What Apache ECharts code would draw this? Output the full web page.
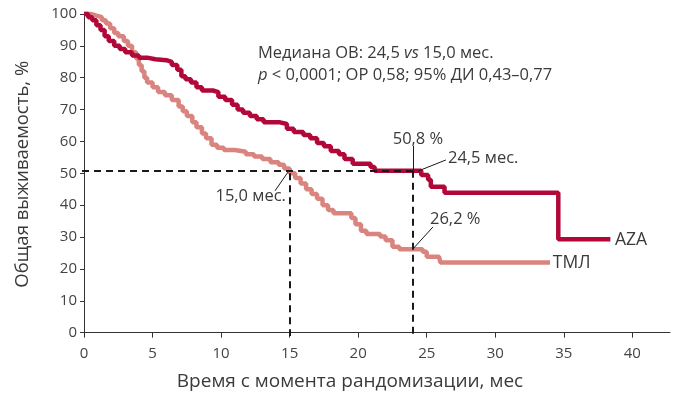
<!DOCTYPE html>
<html>
<head>
<meta charset="utf-8">
<script src="https://cdn.jsdelivr.net/npm/echarts@6/dist/echarts.min.js"></script>
<style>html,body{margin:0;padding:0;background:#fff}#c{width:673px;height:399px}</style>
</head>
<body>
<div id="c"></div>
<script>
// Kaplan–Meier step points [month, survival %]
const azaData = [
  [0,100],[0.3,99],[0.6,98],[0.9,96.5],[1.2,95],[1.5,93],[1.8,91.5],[2.2,90],[2.6,89],[3.0,88],
  [3.5,87],[4.0,86.3],[4.6,85.8],[5.2,85.5],[6.0,85.0],[6.4,84],[6.8,82.5],[7.1,80.5],[7.4,79.5],
  [7.8,78.5],[8.2,77],[8.6,76],[9.4,75.5],[9.8,74],[10.3,73],[10.8,71.5],[11.2,70],[11.6,69],
  [12.1,68],[12.6,67],[13.1,66],[14.3,65.5],[14.8,64],[15.3,63],[16.0,62],[16.5,61],[17.0,59.5],
  [17.5,58.5],[18.0,57],[18.6,56],[19.0,54.5],[19.6,53],[20.9,52],[21.2,50.8],[24.6,49.5],
  [25.1,48],[25.3,45.8],[26.3,43.9],[34.6,29.3],[38.4,29.3]
];
const tmlData = [
  [0,100],[0.5,99.5],[0.9,99],[1.3,98],[1.6,97],[1.9,95.5],[2.2,94],[2.5,93],[2.9,91.5],[3.2,90],
  [3.5,88],[3.8,86],[4.0,84],[4.2,82],[4.4,80],[4.6,78.5],[5.0,77],[5.4,75.5],[5.9,74.5],[6.4,73],
  [6.9,71],[7.2,69.5],[7.5,68],[7.9,66],[8.2,64.5],[8.6,62.5],[8.9,61],[9.3,59],[9.7,58],[10.2,57.3],
  [11.0,56.8],[11.8,56],[12.4,55.3],[13.0,54.5],[13.6,53.5],[14.2,52.7],[14.6,51.5],[15.0,50],
  [15.4,48.5],[15.8,46.8],[16.2,45],[16.6,43.5],[17.0,42],[17.4,40],[17.8,38.5],[18.2,37.5],
  [19.5,36],[19.8,34],[20.2,32],[20.6,31],[21.6,30.2],[22.0,29],[22.5,27],[23.0,26.2],[24.7,25.4],
  [25.0,23.8],[25.9,23.3],[26.0,22],[34.0,22]
];
const xTicks = [0,5,10,15,20,25,30,35,40];
const yTicks = [0,10,20,30,40,50,60,70,80,90,100];
const medianAza = [24, 50.8];
const medianTml = [15, 50];

const txt = '#3a3a3a';
const font = 'Open Sans';
function lbl(coord, text, align, size) {
  return {coord: coord, symbol: 'circle', symbolSize: 0,
    label: {show: true, formatter: text, position: [0,0], align: align, verticalAlign: 'middle',
      color: txt, fontFamily: font, fontSize: size || 16.5}};
}
const dash = {color: '#1a1a1a', type: [7,5], width: 2};
const solid = {color: '#1a1a1a', type: 'solid', width: 1};

const chart = echarts.init(document.getElementById('c'));
chart.setOption({
  animation: false,
  title: {
    left: 253, top: 37,
    text: '{a|Медиана ОВ: 24,5 }{i|vs}{a| 15,0 мес.}\n{i|p}{a| < 0,0001; ОР 0,58; 95% ДИ 0,43–0,77}',
    textStyle: {fontWeight: 'normal', rich: {
      a: {fontFamily: font, fontSize: 16.5, color: txt, lineHeight: 22, fontWeight: 'normal'},
      i: {fontFamily: font, fontSize: 16.5, color: txt, fontStyle: 'italic', lineHeight: 22, fontWeight: 'normal'}
    }}
  },
  grid: {left: 82, right: 3, top: 12.4, bottom: 63, containLabel: false},
  xAxis: {
    type: 'value', min: -0.15, max: 42.75,
    name: 'Время с момента рандомизации, мес', nameLocation: 'middle', nameGap: 36,
    nameTextStyle: {fontFamily: font, fontSize: 19, color: txt, padding: [0, 52, 0, 0]},
    splitLine: {show: false},
    axisLine: {lineStyle: {color: '#333', width: 1}},
    axisTick: {show: true, customValues: xTicks, length: 5, lineStyle: {color: '#333'}},
    axisLabel: {customValues: xTicks, fontFamily: font, fontSize: 15, color: '#444', margin: 10}
  },
  yAxis: {
    type: 'value', min: -1.04, max: 100.5,
    name: 'Общая выживаемость, %', nameLocation: 'middle', nameGap: 50,
    nameTextStyle: {fontFamily: font, fontSize: 18.5, color: txt},
    splitLine: {show: false},
    axisLine: {show: true, lineStyle: {color: '#333', width: 1}},
    axisTick: {show: true, customValues: yTicks, length: 4, lineStyle: {color: '#333'}},
    axisLabel: {customValues: yTicks, fontFamily: font, fontSize: 15, color: '#444', margin: 5}
  },
  series: [
    {name: 'ТМЛ', type: 'line', step: 'end', data: tmlData, showSymbol: false,
     lineStyle: {color: '#d9847f', width: 4.5}, z: 2},
    {name: 'AZA', type: 'line', step: 'end', data: azaData, showSymbol: false,
     lineStyle: {color: '#b10839', width: 4.5}, z: 3},
    {name: 'ann', type: 'line', data: [], z: 5,
     markLine: {
       silent: true, symbol: ['none','none'], label: {show: false}, animation: false,
       data: [
         [{coord: [-0.15, medianAza[1]], lineStyle: dash}, {coord: medianAza}],
         [{coord: [medianTml[0], medianTml[1]], lineStyle: dash}, {coord: [medianTml[0], -1.04]}],
         [{coord: medianAza, lineStyle: dash}, {coord: [medianAza[0], -1.04]}],
         [{coord: [24, 58.6], lineStyle: solid}, {coord: [24, 50.8]}],
         [{coord: [24.36, 50.7], lineStyle: solid}, {coord: [26.4, 54.2]}],
         [{coord: [14.88, 50.4], lineStyle: solid}, {coord: [13.93, 44.5]}],
         [{coord: [24, 26.3], lineStyle: solid}, {coord: [25.46, 33.2]}]
       ]
     },
     markPoint: {
       silent: true, animation: false,
       data: [
         lbl([24.36, 60.8], '50,8 %', 'center'),
         lbl([26.55, 54.8], '24,5 мес.', 'left'),
         lbl([14.73, 42.9], '15,0 мес.', 'right'),
         lbl([25.24, 35.7], '26,2 %', 'left'),
         lbl([38.73, 29.1], 'AZA', 'left', 17.5),
         lbl([34.2, 21.9], 'ТМЛ', 'left', 17.5)
       ]
     }
    }
  ]
});
</script>
</body>
</html>
